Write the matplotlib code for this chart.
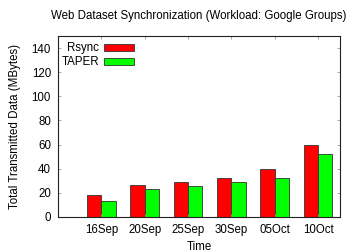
import matplotlib
matplotlib.use("Agg")
import matplotlib.pyplot as plt
import numpy as np

plt.rcParams['font.family'] = ['Liberation Sans', 'DejaVu Sans']

dates = ["16Sep", "20Sep", "25Sep", "30Sep", "05Oct", "10Oct"]
rsync = [18.5, 26.2, 28.8, 31.9, 40.0, 59.3]
taper = [13.1, 23.4, 25.4, 28.6, 32.7, 52.4]

fig = plt.figure(figsize=(3.6, 2.52), dpi=100)
ax = fig.add_axes([0.161, 0.139, 0.783, 0.718])

x = np.arange(1, len(dates) + 1)
w = 0.33
ax.bar(x - w / 2, rsync, w, color="#ff0000", edgecolor="#333333", linewidth=0.6, label="Rsync")
ax.bar(x + w / 2, taper, w, color="#00ff00", edgecolor="#333333", linewidth=0.6, label="TAPER")

ax.set_xlim(0, 6.5)
ax.set_ylim(0, 150)
ax.set_xticks(x)
ax.set_xticklabels(dates)
ax.set_yticks(np.arange(0, 141, 20))
ax.tick_params(direction="in", length=2.5, width=0.6, color="#999999",
               top=True, right=True, labelsize=8.3, pad=5)
for s in ax.spines.values():
    s.set_linewidth(0.8)
    s.set_color("#222222")

ax.set_xlabel("Time", fontsize=8.3, labelpad=4)
ax.set_ylabel("Total Transmitted Data (MBytes)", fontsize=8.3, labelpad=8)
ax.set_title("Web Dataset Synchronization (Workload: Google Groups)", fontsize=8.3, pad=12)

ax.legend(loc="upper left", frameon=False, markerfirst=False, fontsize=8.3,
          handlelength=2.6, handleheight=0.55, labelspacing=0.15,
          borderaxespad=0.15, handletextpad=0.45, bbox_to_anchor=(-0.01, 1.0))

fig.savefig("out.png", dpi=100)
